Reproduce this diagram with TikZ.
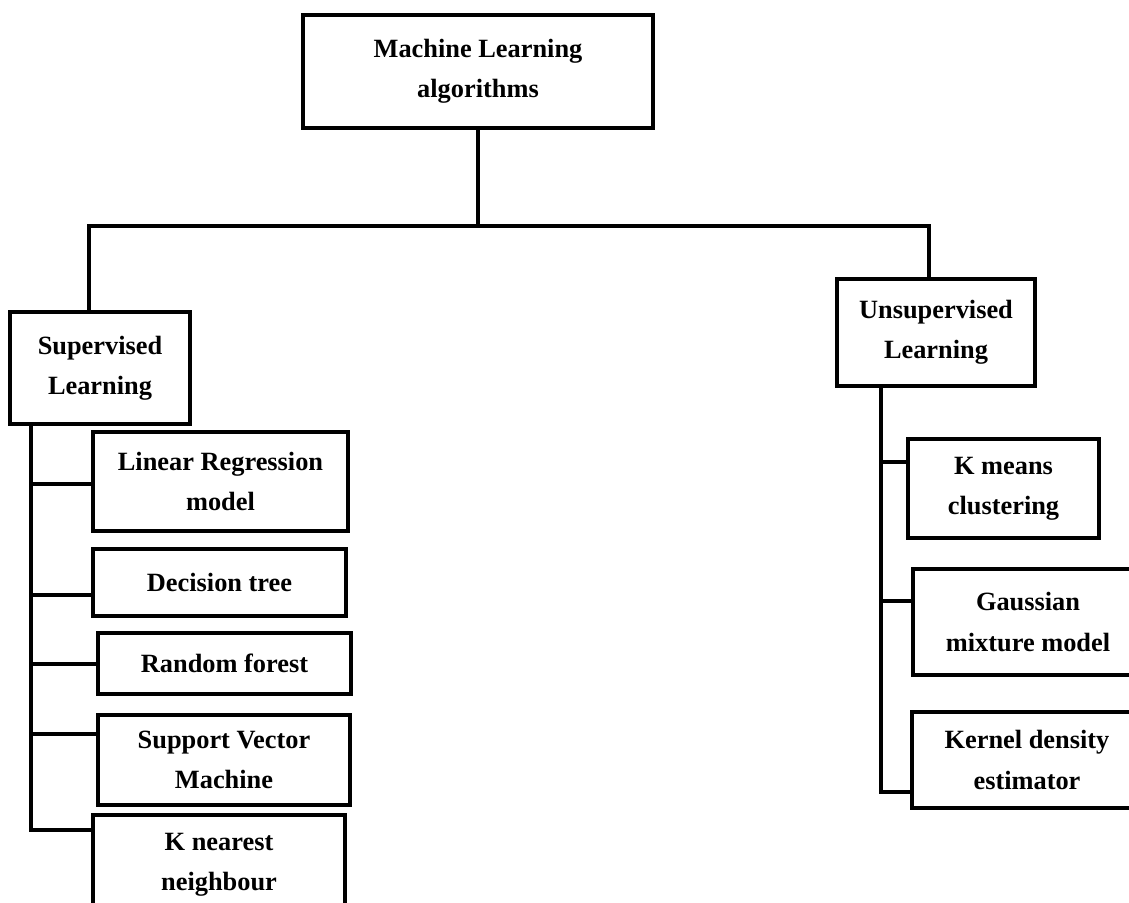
\documentclass[tikz,border=0pt]{standalone}
\usepackage{fontspec}
\setmainfont{Liberation Serif}
\usetikzlibrary{positioning, calc}

\begin{document}
\begin{tikzpicture}[
  x=1cm,y=1cm,
  algbox/.style={
    rectangle, line width=2.2pt, draw=black,
    inner sep=2pt, align=center,
    font=\fontsize{15}{22.8}\selectfont\bfseries
  },
  link/.style={line width=2.2pt, draw=black, line cap=rect}
]
\clip (0,0) rectangle (22.58,-18.04);

% ---- root and the two families ----
\node[algbox, minimum width=7.0cm, minimum height=2.26cm]  (ml)    at (9.56,-1.43)  {Machine Learning\\algorithms};
\node[algbox, minimum width=3.6cm, minimum height=2.24cm]  (sup)   at (2.00,-7.36)  {Supervised\\Learning};
\node[algbox, minimum width=3.96cm, minimum height=2.14cm] (unsup) at (18.72,-6.65) {Unsupervised\\Learning};

% ---- supervised methods ----
\node[algbox, minimum width=5.1cm, minimum height=1.98cm]  (linreg)  at (4.41,-9.63)  {Linear Regression\\model};
\node[algbox, minimum width=5.06cm, minimum height=1.34cm] (dtree)   at (4.39,-11.65) {Decision tree};
\node[algbox, minimum width=5.06cm, minimum height=1.22cm] (rforest) at (4.49,-13.27) {Random forest};
\node[algbox, minimum width=5.04cm, minimum height=1.8cm]  (svm)     at (4.48,-15.20) {Support Vector\\Machine};
\node[algbox, minimum width=5.04cm, minimum height=2.0cm]  (knn)     at (4.38,-17.30) {K nearest\\neighbour};

% ---- unsupervised methods ----
\node[algbox, minimum width=3.82cm, minimum height=1.98cm] (kmeans) at (20.07,-9.77)  {K means\\clustering};
\node[algbox, minimum width=4.6cm, minimum height=2.12cm]  (gmm)    at (20.56,-12.44) {Gaussian\\mixture model};
\node[algbox, minimum width=4.6cm, minimum height=1.92cm]  (kde)    at (20.54,-15.20) {Kernel density\\estimator};

% ---- top split ----
\coordinate (bus) at ($(ml.south)+(0,-1.92)$);
\draw[link] (ml.south) -- (bus);
\draw[link] ($(sup.north)+(-0.22,0)$) |- (bus) -| ($(unsup.north)+(-0.14,0)$);

% ---- left spine with its branches ----
\coordinate (lspine) at ($(sup.south west)+(0.46,0)$);
\foreach \n/\dy in {linreg/-0.05, dtree/-0.25, rforest/-0.01, svm/0.52, knn/0.7}{
  \coordinate (\n-in) at ($(\n.west)+(0,\dy)$);
  \draw[link] (\n-in) -- (\n-in -| lspine);
}
\draw[link] (lspine) -- (lspine |- knn-in);

% ---- right spine with its branches ----
\coordinate (rspine) at ($(unsup.south west)+(0.92,0)$);
\foreach \n/\dy in {kmeans/0.53, gmm/0.42, kde/-0.64}{
  \coordinate (\n-in) at ($(\n.west)+(0,\dy)$);
  \draw[link] (\n-in) -- (\n-in -| rspine);
}
\draw[link] (rspine) -- (rspine |- kde-in);

\end{tikzpicture}
\end{document}
